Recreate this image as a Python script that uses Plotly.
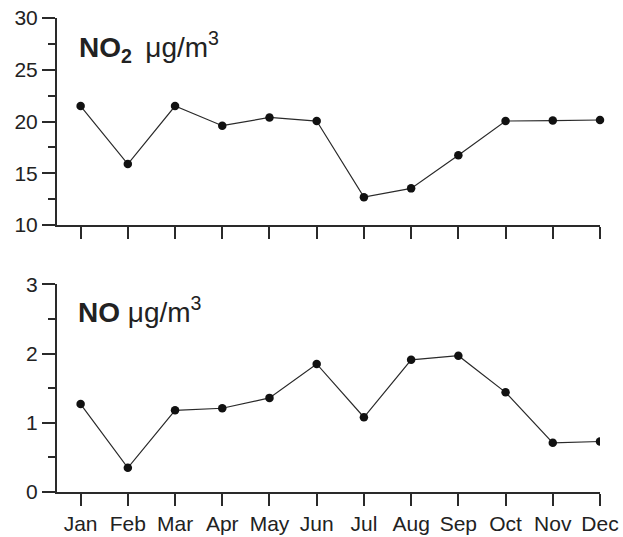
import plotly.graph_objects as go
from plotly.subplots import make_subplots

months = ["Jan", "Feb", "Mar", "Apr", "May", "Jun", "Jul", "Aug", "Sep", "Oct", "Nov", "Dec"]
no2 = [21.5, 15.9, 21.5, 19.6, 20.4, 20.05, 12.7, 13.55, 16.75, 20.05, 20.1, 20.15]
no = [1.27, 0.35, 1.18, 1.21, 1.36, 1.85, 1.08, 1.91, 1.97, 1.44, 0.71, 0.73]
no2_ticks = [10, 15, 20, 25, 30]
no_ticks = [0, 1, 2, 3]

FONT = "Liberation Sans, Arial, Helvetica, sans-serif"
AX = "#2a2a2a"

fig = make_subplots(rows=2, cols=1, shared_xaxes=False, vertical_spacing=0.124)

line_style = dict(color="#2a2a2a", width=1.2)
marker_style = dict(color="#111111", size=8.5)

fig.add_trace(go.Scatter(x=months, y=no2, mode="lines+markers", line=line_style,
                         marker=marker_style, cliponaxis=False, showlegend=False), row=1, col=1)
fig.add_trace(go.Scatter(x=months, y=no, mode="lines+markers", line=line_style,
                         marker=marker_style, cliponaxis=True, showlegend=False), row=2, col=1)

xcommon = dict(type="category", range=[-0.5, 11], showline=True, linecolor=AX, linewidth=2,
               ticks="outside", ticklen=12, tickwidth=2, tickcolor=AX, showgrid=False,
               zeroline=False, automargin=False,
               tickfont=dict(family=FONT, size=21, color="#222"))
fig.update_xaxes(**xcommon, showticklabels=False, row=1, col=1)
fig.update_xaxes(**xcommon, showticklabels=True, row=2, col=1)

ycommon = dict(showline=True, linecolor=AX, linewidth=2, ticks="outside", ticklen=13,
               tickwidth=2, tickcolor=AX, showgrid=False, zeroline=False, automargin=False,
               tickfont=dict(family=FONT, size=21, color="#222"))
fig.update_yaxes(**ycommon, range=[10, 30], tickvals=no2_ticks,
                 minor=dict(ticks="outside", ticklen=7, tickwidth=2, tickcolor=AX, dtick=2.5, tick0=10, showgrid=False),
                 row=1, col=1)
fig.update_yaxes(**ycommon, range=[0, 3], tickvals=no_ticks,
                 minor=dict(ticks="outside", ticklen=7, tickwidth=2, tickcolor=AX, dtick=0.5, tick0=0, showgrid=False),
                 row=2, col=1)

fig.update_layout(
    width=623, height=537,
    margin=dict(l=57, r=23, t=18, b=45),
    paper_bgcolor="white", plot_bgcolor="white",
    font=dict(family=FONT, color="#222"),
)
fig.update_layout(yaxis=dict(domain=[0.563, 1.0]), yaxis2=dict(domain=[0.0, 0.438]))

fig.add_annotation(xref="x domain", yref="y domain", x=0.037, y=0.86, xanchor="left", yanchor="middle",
                   text="<b>NO<sub>2</sub></b> &#8201;μg/m<sup>3</sup>", showarrow=False,
                   font=dict(family=FONT, size=28, color="#222"))
fig.add_annotation(xref="x2 domain", yref="y2 domain", x=0.035, y=0.875, xanchor="left", yanchor="middle",
                   text="<b>NO</b> μg/m<sup>3</sup>", showarrow=False,
                   font=dict(family=FONT, size=28, color="#222"))

fig.write_html("out.html")
